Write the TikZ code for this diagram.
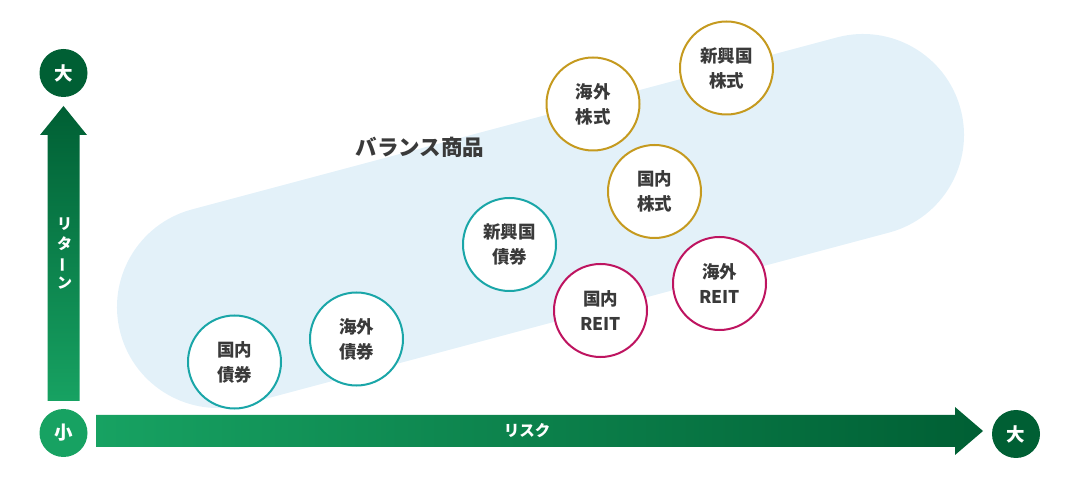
\documentclass[tikz,border=0pt]{standalone}
\usepackage{fontspec}
\setmainfont{Noto Sans CJK JP}
\definecolor{bandblue}{HTML}{E3F1F9}
\definecolor{greenlight}{HTML}{17A262}
\definecolor{greendark}{HTML}{005F34}
\definecolor{bondteal}{HTML}{1AA6A8}
\definecolor{stockgold}{HTML}{C59A1F}
\definecolor{reitred}{HTML}{BE1460}
\definecolor{txt}{HTML}{3A3A3A}
\tikzset{
  asset/.style={circle, draw, line width=2pt, fill=white, minimum size=93pt, inner sep=0pt,
    align=center, text=txt, font=\fontsize{17.5}{25}\selectfont\bfseries},
  bond/.style={asset, draw=bondteal},
  stock/.style={asset, draw=stockgold},
  reit/.style={asset, draw=reitred},
  axislabel/.style={circle, minimum size=48pt, inner sep=0pt, text=white,
    font=\fontsize{18.5}{20}\selectfont\bfseries},
  arrowtext/.style={text=white, font=\fontsize{15.5}{20}\selectfont\bfseries}
}
\begin{document}
\begin{tikzpicture}[x=1pt,y=-1pt]
\useasboundingbox (0,0) rectangle (1080,478);
% band
\coordinate (bandL) at (218,307);
\coordinate (bandR) at (863,135);
\draw[bandblue, line width=202pt, line cap=round] (bandL) -- (bandR);
\node[text=txt, font=\fontsize{21.5}{22}\selectfont\bfseries] (balance) at (420,147) {バランス商品};
% vertical arrow
\shade[bottom color=greenlight, top color=greendark]
  (47.5,401) -- (47.5,135) -- (40,135) -- (63.5,106) -- (87,135) -- (79.5,135) -- (79.5,401) -- cycle;
\node[arrowtext, align=center, font=\fontsize{15}{19.5}\selectfont\bfseries] (ret) at (64.5,253.5)
  {リ\\タ\\\rotatebox[origin=c]{90}{ー}\\ン};
% horizontal arrow
\shade[left color=greenlight, right color=greendark]
  (96,415) -- (955,415) -- (955,407) -- (983,431) -- (955,455) -- (955,447) -- (96,447) -- cycle;
\node[arrowtext] (risk) at (527,431) {リスク};
% axis labels
\node[axislabel, fill=greendark] (topbig) at (63.5,73) {大};
\node[axislabel, fill=greenlight] (small) at (63.5,433) {小};
\node[axislabel, fill=greendark] (rightbig) at (1016,434) {大};
% assets
\node[bond] (dombond) at (234.5,362) {国内\\債券};
\node[bond] (forbond) at (356.5,339) {海外\\債券};
\node[bond] (embond) at (509.5,244.5) {新興国\\債券};
\node[reit] (domreit) at (600.5,310.5) {国内\\REIT};
\node[reit] (forreit) at (719.5,283.5) {海外\\REIT};
\node[stock] (domstock) at (654.5,191.5) {国内\\株式};
\node[stock] (forstock) at (593,104) {海外\\株式};
\node[stock] (emstock) at (726.5,68) {新興国\\株式};
\end{tikzpicture}
\end{document}
